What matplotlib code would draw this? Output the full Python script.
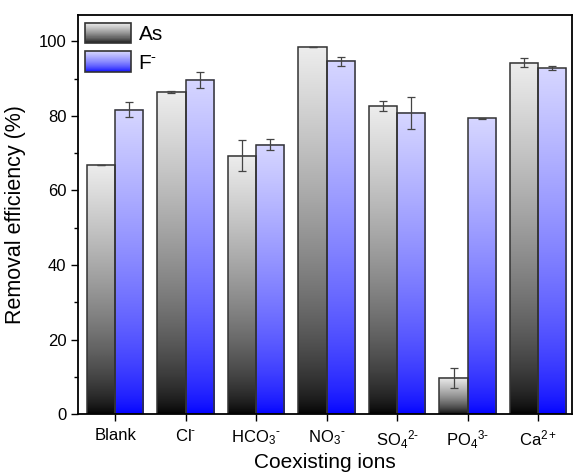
import numpy as np
import matplotlib
matplotlib.use("Agg")
import matplotlib.pyplot as plt
from matplotlib.patches import Rectangle, Patch
from matplotlib.legend_handler import HandlerBase
from matplotlib.ticker import MultipleLocator

plt.rcParams['font.family'] = ['Liberation Sans', 'DejaVu Sans']
plt.rcParams['mathtext.fontset'] = 'custom'
plt.rcParams['mathtext.rm'] = 'Liberation Sans'
plt.rcParams['mathtext.it'] = 'Liberation Sans'
plt.rcParams['mathtext.default'] = 'regular'

hy = '\u2010'
ions = ['Blank', 'Cl$^{%s}$' % hy, 'HCO$_3$$^{%s}$' % hy, 'NO$_3$$^{%s}$' % hy,
        'SO$_4$$^{2%s}$' % hy, 'PO$_4$$^{3%s}$' % hy, 'Ca$^{2+}$']
as_vals = [66.8, 86.4, 69.3, 98.6, 82.6, 9.7, 94.3]
as_err = [0.0, 0.2, 4.2, 0.0, 1.3, 2.6, 1.2]
f_vals = [81.7, 89.6, 72.3, 94.7, 80.8, 79.3, 92.8]
f_err = [2.0, 2.1, 1.4, 1.2, 4.3, 0.2, 0.45]

as_bot, as_top = np.array([0.0, 0.0, 0.0]), np.array([0.93, 0.93, 0.93])
f_bot, f_top = np.array([0.0, 0.0, 1.0]), np.array([0.84, 0.84, 1.0])
edge = '#333333'


def grad(c0, c1, n=256):
    t = np.linspace(0, 1, n)[:, None] ** 0.65
    return (c0[None, :] * (1 - t) + c1[None, :] * t)[:, None, :]


class GradHandler(HandlerBase):
    def __init__(self, c0, c1):
        super().__init__()
        self.c0, self.c1 = c0, c1

    def create_artists(self, legend, orig_handle, xdescent, ydescent, width, height, fontsize, trans):
        arts = []
        n = 40
        for i in range(n):
            t = ((i + 0.5) / n) ** 0.65
            col = self.c0 + (self.c1 - self.c0) * t
            arts.append(Rectangle((-xdescent, -ydescent + height * i / n), width, height / n * 1.05,
                                  facecolor=col, edgecolor='none', transform=trans))
        arts.append(Rectangle((-xdescent, -ydescent), width, height, fill=False,
                              edgecolor=edge, lw=1.2, transform=trans))
        return arts


fig = plt.figure(figsize=(5.74, 4.76), dpi=100)
ax = fig.add_axes([0.136, 0.130, 0.8605, 0.838])

x = np.arange(len(ions))
w = 0.4
for vals, errs, c0, c1, off in [(as_vals, as_err, as_bot, as_top, -w / 2), (f_vals, f_err, f_bot, f_top, w / 2)]:
    for xi, v, e in zip(x, vals, errs):
        ax.imshow(grad(c0, c1), extent=[xi + off - w / 2, xi + off + w / 2, 0, v],
                  origin='lower', aspect='auto', interpolation='bilinear', zorder=1)
    ax.bar(x + off, vals, w, facecolor='none', edgecolor=edge, linewidth=1.1, zorder=2)
    ax.errorbar(x + off, vals, yerr=errs, fmt='none', ecolor='#444444', elinewidth=0.9,
                capsize=3, capthick=0.9, zorder=3)

ax.set_xlim(-0.525, 6.48)
ax.set_ylim(0, 107)
ax.set_xticks(x)
ax.set_xticklabels(ions, fontsize=12)
ax.yaxis.set_major_locator(MultipleLocator(20))
ax.yaxis.set_minor_locator(MultipleLocator(10))
ax.tick_params(axis='y', labelsize=12, length=5, width=1, direction='out')
ax.tick_params(axis='y', which='minor', length=3, width=1)
ax.tick_params(axis='x', length=5, width=1, direction='out', pad=5)
for s in ax.spines.values():
    s.set_linewidth(1.3)
ax.set_ylabel('Removal efficiency (%)', fontsize=15.5, labelpad=9)
ax.set_xlabel('Coexisting ions', fontsize=15, labelpad=2)

h1, h2 = Patch(), Patch()
ax.legend([h1, h2], ['As', 'F$^{%s}$' % hy], loc='upper left', frameon=False, fontsize=15,
          handler_map={h1: GradHandler(as_bot, as_top), h2: GradHandler(f_bot, f_top)},
          handlelength=2.2, handleheight=1.15, handletextpad=0.35, labelspacing=0.35,
          borderaxespad=0.2, borderpad=0.15)

fig.savefig('out.png', dpi=100)
